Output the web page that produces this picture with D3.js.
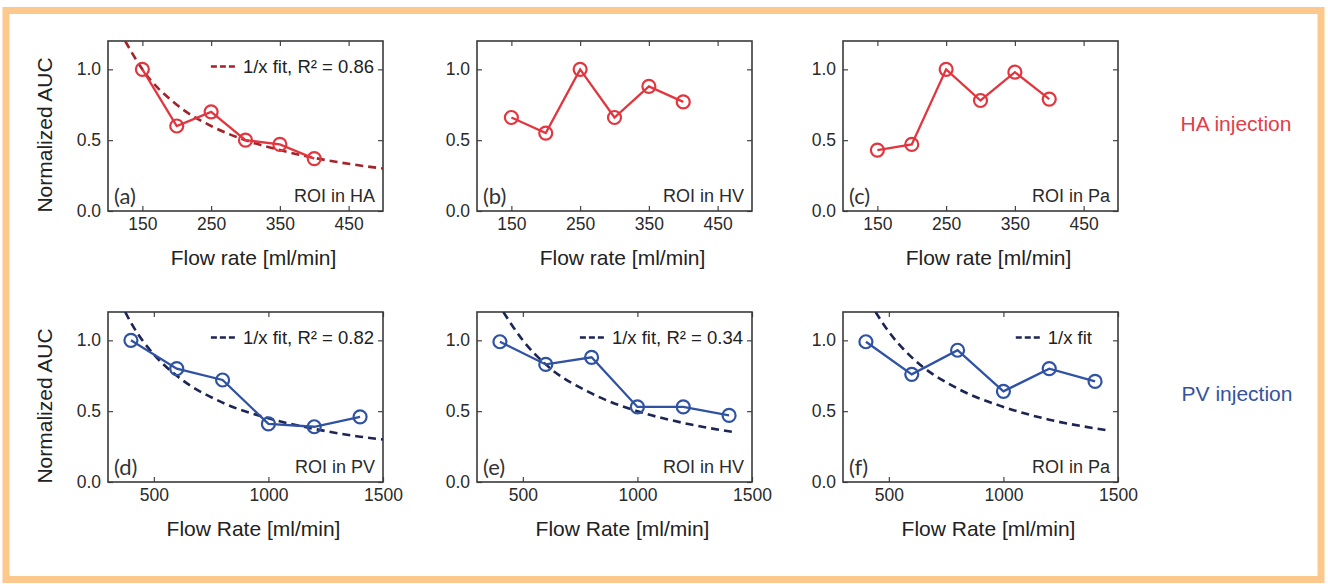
<!DOCTYPE html>
<html>
<head>
<meta charset="utf-8">
<script src="https://cdn.jsdelivr.net/npm/d3@7"></script>
<style>
  body { margin: 0; background: #fff; }
  svg { display: block; }
</style>
</head>
<body>
<div id="main"></div>
<script>
// ---- data ----
const haFlow = [150, 200, 250, 300, 350, 400];
const haRoiHA = [1.0, 0.6, 0.7, 0.5, 0.47, 0.37];
const haRoiHV = [0.66, 0.55, 1.0, 0.66, 0.88, 0.77];
const haRoiPa = [0.43, 0.47, 1.0, 0.78, 0.98, 0.79];

const pvFlow = [400, 600, 800, 1000, 1200, 1400];
const pvRoiPV = [1.0, 0.8, 0.72, 0.41, 0.39, 0.46];
const pvRoiHV = [0.99, 0.83, 0.88, 0.53, 0.53, 0.47];
const pvRoiPa = [0.99, 0.76, 0.93, 0.64, 0.8, 0.71];

// dashed 1/x fit curves
const fitFlowA = [125, 150, 200, 250, 300, 350, 400, 450, 500];
const fitA = [1.2, 1.0, 0.75, 0.6, 0.5, 0.43, 0.375, 0.333, 0.3];
const fitFlowD = [375, 400, 500, 600, 800, 1000, 1200, 1400, 1500];
const fitD = [1.2, 1.125, 0.9, 0.75, 0.56, 0.45, 0.375, 0.32, 0.3];
const fitFlowE = [415, 500, 600, 800, 1000, 1200, 1420];
const fitE = [1.2, 1.0, 0.83, 0.625, 0.5, 0.417, 0.352];
const fitFlowF = [442, 500, 600, 800, 1000, 1200, 1450];
const fitF = [1.2, 1.06, 0.88, 0.66, 0.53, 0.44, 0.366];

const haTicks = [150, 250, 350, 450];
const pvTicks = [500, 1000, 1500];
const aucTicks = [0, 0.5, 1.0];

const width = 1328;
const height = 584;
const colX = [108, 477, 843];
const rowY = [41, 312];
const boxW = 275;
const boxH = 170;

const red = "#e2363f";
const darkRed = "#a3232b";
const blue = "#2f52a2";
const navy = "#1c2553";
const font = "'Liberation Sans', Arial, sans-serif";

const panels = [
  { row: 0, col: 0, flow: haFlow, auc: haRoiHA, fitFlow: fitFlowA, fit: fitA, legend: "1/x fit, R\u00b2 = 0.86", legendPad: 9, tag: "(a)", roi: "ROI in HA" },
  { row: 0, col: 1, flow: haFlow, auc: haRoiHV, tag: "(b)", roi: "ROI in HV" },
  { row: 0, col: 2, flow: haFlow, auc: haRoiPa, tag: "(c)", roi: "ROI in Pa" },
  { row: 1, col: 0, flow: pvFlow, auc: pvRoiPV, fitFlow: fitFlowD, fit: fitD, legend: "1/x fit, R\u00b2 = 0.82", legendPad: 9, tag: "(d)", roi: "ROI in PV" },
  { row: 1, col: 1, flow: pvFlow, auc: pvRoiHV, fitFlow: fitFlowE, fit: fitE, legend: "1/x fit, R\u00b2 = 0.34", legendPad: 9, tag: "(e)", roi: "ROI in HV" },
  { row: 1, col: 2, flow: pvFlow, auc: pvRoiPa, fitFlow: fitFlowF, fit: fitF, legend: "1/x fit", legendPad: 26, tag: "(f)", roi: "ROI in Pa" }
];

const svg = d3.select("#main")
  .append("svg")
  .attr("width", width)
  .attr("height", height);

// orange frame
svg.append("rect")
  .attr("x", 6)
  .attr("y", 10.5)
  .attr("width", 1315)
  .attr("height", 569)
  .attr("fill", "none")
  .attr("stroke", "#fcc88c")
  .attr("stroke-width", 7);

panels.forEach((p, i) => {
  const left = colX[p.col];
  const top = rowY[p.row];
  const isHA = p.row === 0;
  const lineColor = isHA ? red : blue;
  const fitColor = isHA ? darkRed : navy;

  const xScale = d3.scaleLinear()
    .domain(isHA ? [100, 500] : [300, 1500])
    .range([0, boxW]);
  const yScale = d3.scaleLinear()
    .domain([0, 1.2])
    .range([boxH, 0]);

  const g = svg.append("g")
    .attr("transform", "translate(" + left + "," + top + ")");

  g.append("clipPath")
    .attr("id", "clip" + i)
    .append("rect")
    .attr("width", boxW)
    .attr("height", boxH);

  // axes, ticks pointing inwards on all four sides
  const xTicks = isHA ? haTicks : pvTicks;
  const bottomAxis = g.append("g")
    .attr("transform", "translate(0," + boxH + ")")
    .call(d3.axisBottom(xScale).tickValues(xTicks).tickFormat(d3.format("d")).tickSizeInner(-5).tickSizeOuter(0).tickPadding(7));
  const leftAxis = g.append("g")
    .call(d3.axisLeft(yScale).tickValues(aucTicks).tickFormat(d3.format(".1f")).tickSizeInner(-5).tickSizeOuter(0).tickPadding(7));
  const topAxis = g.append("g")
    .call(d3.axisTop(xScale).tickValues(xTicks).tickFormat("").tickSizeInner(-5).tickSizeOuter(0));
  const rightAxis = g.append("g")
    .attr("transform", "translate(" + boxW + ",0)")
    .call(d3.axisRight(yScale).tickValues(aucTicks).tickFormat("").tickSizeInner(-5).tickSizeOuter(0));

  [bottomAxis, leftAxis, topAxis, rightAxis].forEach((a) => {
    a.attr("font-family", font).attr("font-size", 17.5);
    a.select(".domain").remove();
    a.selectAll("line").attr("stroke", "#444").attr("stroke-width", 1.2);
    a.selectAll("text").attr("fill", "#2a2a2a");
  });

  g.append("rect")
    .attr("width", boxW)
    .attr("height", boxH)
    .attr("fill", "none")
    .attr("stroke", "#3a3a3a")
    .attr("stroke-width", 1.6);

  const plot = g.append("g").attr("clip-path", "url(#clip" + i + ")");

  if (p.fit) {
    const fitLine = d3.line()
      .x((d, j) => xScale(p.fitFlow[j]))
      .y((d) => yScale(d))
      .curve(d3.curveMonotoneX);
    plot.append("path")
      .attr("d", fitLine(p.fit))
      .attr("fill", "none")
      .attr("stroke", fitColor)
      .attr("stroke-width", 2.6)
      .attr("stroke-dasharray", "8,5");
  }

  const dataLine = d3.line()
    .x((d, j) => xScale(p.flow[j]))
    .y((d) => yScale(d));
  plot.append("path")
    .attr("d", dataLine(p.auc))
    .attr("fill", "none")
    .attr("stroke", lineColor)
    .attr("stroke-width", 2.3);

  plot.selectAll("circle")
    .data(p.auc)
    .enter()
    .append("circle")
    .attr("cx", (d, j) => xScale(p.flow[j]))
    .attr("cy", (d) => yScale(d))
    .attr("r", 6.5)
    .attr("fill", "none")
    .attr("stroke", lineColor)
    .attr("stroke-width", 2.2);

  // legend
  if (p.legend) {
    const legendText = g.append("text")
      .attr("x", boxW - p.legendPad)
      .attr("y", 32)
      .attr("text-anchor", "end")
      .attr("font-family", font)
      .attr("font-size", 18.5)
      .attr("fill", "#222")
      .text(p.legend);
    const textStart = boxW - p.legendPad - legendText.node().getComputedTextLength();
    g.append("line")
      .attr("x1", textStart - 32)
      .attr("x2", textStart - 8)
      .attr("y1", 25.5)
      .attr("y2", 25.5)
      .attr("stroke", fitColor)
      .attr("stroke-width", 2.6)
      .attr("stroke-dasharray", "6,3");
  }

  g.append("text")
    .attr("x", 6)
    .attr("y", boxH - 7)
    .attr("font-family", "Lato, 'Open Sans', sans-serif")
    .attr("font-size", 22)
    .attr("fill", "#333")
    .text(p.tag);

  g.append("text")
    .attr("x", boxW - 8)
    .attr("y", boxH - 9)
    .attr("text-anchor", "end")
    .attr("font-family", font)
    .attr("font-size", 18)
    .attr("fill", "#2a2a2a")
    .text(p.roi);

  g.append("text")
    .attr("x", boxW / 2 + 8)
    .attr("y", boxH + 54)
    .attr("text-anchor", "middle")
    .attr("font-family", font)
    .attr("font-size", 21)
    .attr("fill", "#222")
    .text(isHA ? "Flow rate [ml/min]" : "Flow Rate [ml/min]");

  if (p.col === 0) {
    g.append("text")
      .attr("transform", "translate(-56," + (boxH / 2 + 9) + ") rotate(-90)")
      .attr("text-anchor", "middle")
      .attr("font-family", font)
      .attr("font-size", 21)
      .attr("fill", "#222")
      .text("Normalized AUC");
  }
});

svg.append("text")
  .attr("x", 1236)
  .attr("y", 131)
  .attr("text-anchor", "middle")
  .attr("font-family", font)
  .attr("font-size", 21)
  .attr("fill", "#e0404a")
  .text("HA injection");

svg.append("text")
  .attr("x", 1237)
  .attr("y", 401)
  .attr("text-anchor", "middle")
  .attr("font-family", font)
  .attr("font-size", 21)
  .attr("fill", "#3553a0")
  .text("PV injection");
</script>
</body>
</html>
